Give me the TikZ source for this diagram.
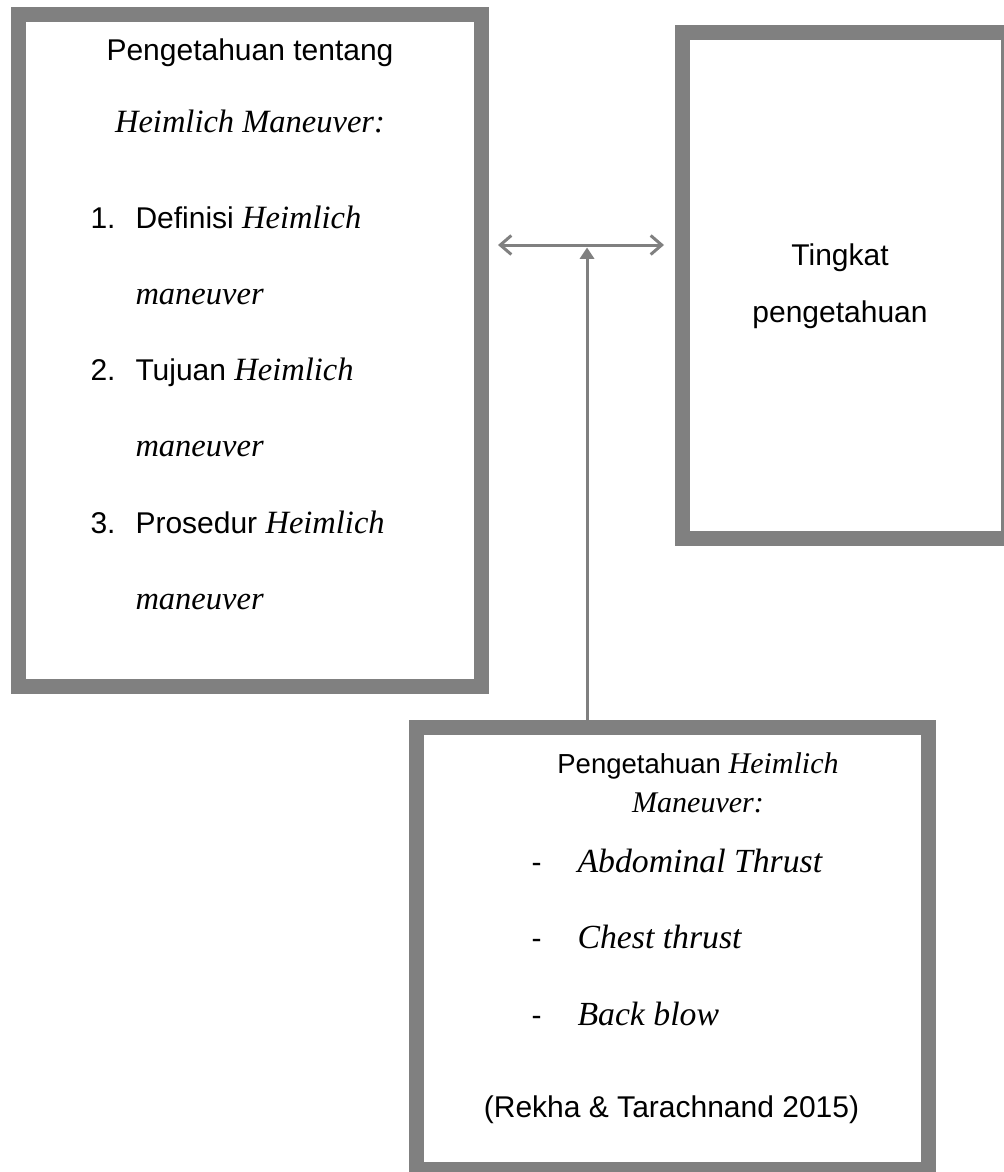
\documentclass[tikz,border=0pt]{standalone}
\usepackage{fontspec}
\setmainfont{Liberation Sans}
\newfontfamily\serifit{Liberation Serif}
\usepackage{tikz}
\usetikzlibrary{arrows.meta}
\usetikzlibrary{calc}
\definecolor{framegray}{RGB}{128,128,128}
\newcommand{\hm}[2][13]{{\fontsize{#1}{#1}\selectfont\serifit\itshape #2}}

\begin{document}
\begin{tikzpicture}[x = 0.4pt, y = -0.4pt, inner sep = 0pt, font = \fontsize{12}{14}\selectfont,
	frame/.style = {draw = framegray, line width = 6pt},
	link/.style = {draw = framegray, line width = 1.2pt}]
	\useasboundingbox (0,0) rectangle (1004,1172);

	\node [frame, minimum width = 185.2pt, minimum height = 268.8pt] (know) at (250,350.5) {};
	\node [frame, minimum width = 130.4pt, minimum height = 202.4pt] (level) at (845.5,285.5) {};
	\node [frame, minimum width = 204.8pt, minimum height = 176.8pt] (manuv) at (672.5,948.5) {};

	% left box
	\node [anchor = base] (kt1) at (250,61) {Pengetahuan tentang};
	\node [anchor = base] (kt2) at (250,132) {\hm{Heimlich Maneuver:}};
	\foreach \n/\w/\y in {1/Definisi/228, 2/Tujuan/380, 3/Prosedur/533} {
		\node [anchor = base west] (num\n) at (90,\y) {\n.};
		\node [anchor = base west] (item\n) at (135,\y) {\w{} \hm{Heimlich}};
		\node [anchor = base west] (tail\n) at (135,\y+76) {\hm{maneuver}};
	}

	% right box
	\node [anchor = base] (lv1) at (840,265) {Tingkat};
	\node [anchor = base] (lv2) at (840,322) {pengetahuan};

	% bottom box
	\node [anchor = base] (mt1) at (698,773) {\fontsize{11}{13}\selectfont Pengetahuan \hm[12]{Heimlich}};
	\node [anchor = base] (mt2) at (698,812) {\hm[12]{Maneuver:}};
	\foreach \t/\y [count=\i] in {Abdominal Thrust/872, Chest thrust/948, Back blow/1025} {
		\node [anchor = base west] (dash\i) at (531,\y) {-};
		\node [anchor = base west] (way\i) at (577,\y) {\hm[13.5]{\t}};
	}
	\node [anchor = base] (src) at (671.5,1117) {(Rekha \& Tarachnand 2015)};

	% arrows
	\coordinate (hub) at (587,245);
	\coordinate (hubtip) at (587,247.5);
	\draw [link, {Straight Barb[length=4.4pt, width=7.6pt]}-{Straight Barb[length=4.4pt, width=7.6pt]}] ($(know.east |- hub)+(9,0)$) -- ($(level.west |- hub)+(-11,0)$);
	\draw [link, -{Triangle[length=4.5pt, width=5.6pt]}] (hubtip |- manuv.north) -- (hubtip);
\end{tikzpicture}
\end{document}
